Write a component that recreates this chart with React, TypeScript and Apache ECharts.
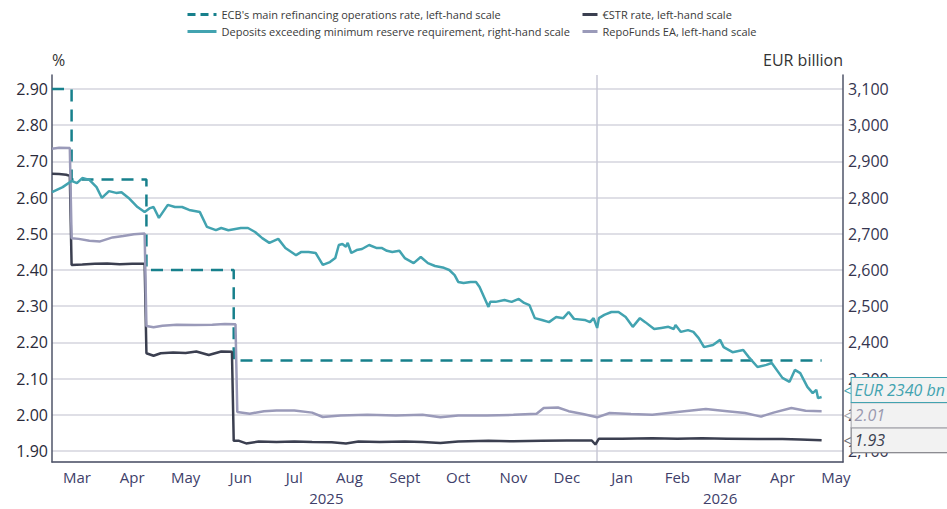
import React, { useEffect, useRef } from 'react';
import * as echarts from 'echarts';

// ---------- axis extents / labels ----------
const X_START = '2025-03-01';
const X_END = '2026-05-19';
const YEAR_BOUNDARY = '2026-01-01';
const MONTH_LABEL_DAY = 15;
const MONTH_NAMES = ['Jan', 'Feb', 'Mar', 'Apr', 'May', 'Jun', 'Jul', 'Aug', 'Sept', 'Oct', 'Nov', 'Dec'];
const YEAR_LABEL_DAYS = ['2025-08-02', '2026-03-11'];

const LEFT_MIN = 1.8696;
const LEFT_MAX = 2.9387;
const RIGHT_MIN = 2069.6;
const RIGHT_MAX = 3138.7;

const LEFT_NAME = '%';
const RIGHT_NAME = 'EUR billion';

// ---------- series names ----------
const ECB_NAME = "ECB's main refinancing operations rate, left-hand scale";
const ESTR_NAME = '€STR rate, left-hand scale';
const DEP_NAME = 'Deposits exceeding minimum reserve requirement, right-hand scale';
const REPO_NAME = 'RepoFunds EA, left-hand scale';
const DEP_END_LABEL = 'EUR 2340 bn';

// ---------- data ----------
const ecbRate: [string, number][] = [
  ['2025-03-01', 2.9], ['2025-03-12', 2.65], ['2025-04-23', 2.4], ['2025-06-11', 2.15], ['2026-05-07', 2.15],
];

const estrRate: [string, number][] = [
  ['2025-03-01', 2.666], ['2025-03-05', 2.665], ['2025-03-09', 2.663], ['2025-03-11', 2.66],
  ['2025-03-12', 2.414], ['2025-03-18', 2.415], ['2025-03-25', 2.417], ['2025-04-01', 2.418],
  ['2025-04-08', 2.416], ['2025-04-15', 2.417], ['2025-04-22', 2.417],
  ['2025-04-23', 2.17], ['2025-04-27', 2.163], ['2025-05-01', 2.17], ['2025-05-08', 2.172],
  ['2025-05-15', 2.171], ['2025-05-21', 2.175], ['2025-05-28', 2.165], ['2025-06-04', 2.175], ['2025-06-10', 2.174],
  ['2025-06-11', 1.928], ['2025-06-14', 1.928], ['2025-06-18', 1.921], ['2025-06-25', 1.926], ['2025-07-05', 1.925],
  ['2025-07-15', 1.926], ['2025-07-25', 1.925], ['2025-08-05', 1.924], ['2025-08-13', 1.921], ['2025-08-20', 1.926],
  ['2025-09-01', 1.925], ['2025-09-15', 1.926], ['2025-09-25', 1.925], ['2025-10-05', 1.922], ['2025-10-15', 1.926],
  ['2025-11-01', 1.928], ['2025-11-15', 1.927], ['2025-12-01', 1.928], ['2025-12-15', 1.929], ['2025-12-29', 1.929],
  ['2025-12-31', 1.918], ['2026-01-02', 1.934], ['2026-01-15', 1.934], ['2026-02-01', 1.935], ['2026-02-15', 1.934],
  ['2026-03-01', 1.935], ['2026-03-15', 1.934], ['2026-04-01', 1.933], ['2026-04-15', 1.933], ['2026-04-25', 1.932],
  ['2026-05-07', 1.93],
];

const repoFunds: [string, number][] = [
  ['2025-03-01', 2.735], ['2025-03-05', 2.738], ['2025-03-11', 2.737],
  ['2025-03-12', 2.488], ['2025-03-16', 2.486], ['2025-03-22', 2.481], ['2025-03-28', 2.479], ['2025-04-04', 2.49],
  ['2025-04-10', 2.494], ['2025-04-16', 2.499], ['2025-04-22', 2.501],
  ['2025-04-23', 2.245], ['2025-04-27', 2.242], ['2025-05-02', 2.246], ['2025-05-10', 2.249], ['2025-05-20', 2.248],
  ['2025-05-30', 2.249], ['2025-06-06', 2.251], ['2025-06-12', 2.25],
  ['2025-06-13', 2.008], ['2025-06-20', 2.003], ['2025-06-28', 2.01], ['2025-07-05', 2.012], ['2025-07-15', 2.012],
  ['2025-07-25', 2.006], ['2025-07-31', 1.994], ['2025-08-10', 1.998], ['2025-08-25', 2.0], ['2025-09-10', 1.998],
  ['2025-09-25', 2.0], ['2025-10-05', 1.993], ['2025-10-15', 1.998], ['2025-10-31', 1.998], ['2025-11-15', 2.0],
  ['2025-11-28', 2.003], ['2025-12-02', 2.019], ['2025-12-10', 2.02], ['2025-12-16', 2.01], ['2025-12-24', 2.002],
  ['2026-01-01', 1.993], ['2026-01-08', 2.005], ['2026-01-20', 2.002], ['2026-02-01', 2.0], ['2026-02-15', 2.008],
  ['2026-03-03', 2.016], ['2026-03-15', 2.01], ['2026-03-25', 2.005], ['2026-04-03', 1.995], ['2026-04-10', 2.006],
  ['2026-04-20', 2.019], ['2026-04-28', 2.011], ['2026-05-07', 2.01],
];

const deposits: [string, number][] = [
  ['2025-03-01', 2815], ['2025-03-07', 2829], ['2025-03-12', 2846], ['2025-03-15', 2840], ['2025-03-18', 2854],
  ['2025-03-22', 2849], ['2025-03-26', 2829], ['2025-03-29', 2799], ['2025-04-02', 2818], ['2025-04-06', 2813],
  ['2025-04-09', 2815], ['2025-04-13', 2799], ['2025-04-18', 2774], ['2025-04-22', 2760], ['2025-04-25', 2771],
  ['2025-04-27', 2774], ['2025-04-30', 2744], ['2025-05-05', 2780], ['2025-05-09', 2774], ['2025-05-13', 2774],
  ['2025-05-17', 2766], ['2025-05-23', 2760], ['2025-05-27', 2719], ['2025-06-01', 2710], ['2025-06-04', 2716],
  ['2025-06-08', 2710], ['2025-06-15', 2716], ['2025-06-19', 2716], ['2025-06-23', 2705], ['2025-06-27', 2688],
  ['2025-07-01', 2675], ['2025-07-06', 2686], ['2025-07-10', 2661], ['2025-07-16', 2641], ['2025-07-19', 2650],
  ['2025-07-23', 2650], ['2025-07-27', 2647], ['2025-07-31', 2614], ['2025-08-04', 2622], ['2025-08-07', 2633],
  ['2025-08-09', 2669], ['2025-08-11', 2672], ['2025-08-13', 2664], ['2025-08-14', 2675], ['2025-08-16', 2647],
  ['2025-08-19', 2655], ['2025-08-22', 2658], ['2025-08-26', 2669], ['2025-08-30', 2661], ['2025-09-02', 2661],
  ['2025-09-05', 2653], ['2025-09-08', 2650], ['2025-09-12', 2653], ['2025-09-15', 2633], ['2025-09-20', 2619],
  ['2025-09-24', 2636], ['2025-09-28', 2619], ['2025-10-02', 2611], ['2025-10-07', 2606], ['2025-10-10', 2600],
  ['2025-10-13', 2586], ['2025-10-15', 2567], ['2025-10-18', 2564], ['2025-10-22', 2567], ['2025-10-25', 2567],
  ['2025-10-27', 2553], ['2025-10-29', 2531], ['2025-11-01', 2498], ['2025-11-02', 2512], ['2025-11-05', 2512],
  ['2025-11-10', 2517], ['2025-11-14', 2512], ['2025-11-18', 2520], ['2025-11-21', 2509], ['2025-11-24', 2503],
  ['2025-11-27', 2467], ['2025-12-01', 2462], ['2025-12-05', 2456], ['2025-12-09', 2470], ['2025-12-13', 2467],
  ['2025-12-16', 2484], ['2025-12-19', 2465], ['2025-12-25', 2462], ['2025-12-28', 2456], ['2025-12-30', 2467],
  ['2026-01-01', 2440], ['2026-01-02', 2467], ['2026-01-05', 2476], ['2026-01-09', 2484], ['2026-01-13', 2484],
  ['2026-01-17', 2470], ['2026-01-21', 2443], ['2026-01-25', 2467], ['2026-01-28', 2456], ['2026-02-02', 2437],
  ['2026-02-06', 2440], ['2026-02-10', 2443], ['2026-02-13', 2437], ['2026-02-14', 2448], ['2026-02-17', 2429],
  ['2026-02-21', 2434], ['2026-02-24', 2429], ['2026-02-27', 2412], ['2026-03-02', 2387], ['2026-03-07', 2393],
  ['2026-03-11', 2407], ['2026-03-13', 2387], ['2026-03-18', 2373], ['2026-03-24', 2379], ['2026-03-27', 2360],
  ['2026-04-01', 2332], ['2026-04-06', 2338], ['2026-04-09', 2343], ['2026-04-15', 2302], ['2026-04-19', 2291],
  ['2026-04-22', 2324], ['2026-04-25', 2315], ['2026-04-29', 2277], ['2026-05-02', 2260], ['2026-05-04', 2269],
  ['2026-05-05', 2246], ['2026-05-07', 2249],
];

// ---------- styles ----------
const FONT = "'Open Sans', sans-serif";
const C_ECB = '#17808c';
const C_DEP = '#42a3b0';
const C_ESTR = '#3b3f50';
const C_REPO = '#9a9ab9';
const C_GRID = '#d4d4de';
const C_AXIS = '#4f5468';

function parseDay(s: string): number {
  const [y, m, d] = s.split('-').map(Number);
  return new Date(y, m - 1, d).getTime();
}
function fmtDay(dt: Date): string {
  const m = String(dt.getMonth() + 1).padStart(2, '0');
  const d = String(dt.getDate()).padStart(2, '0');
  return `${dt.getFullYear()}-${m}-${d}`;
}
function dayList(start: string, end: string): string[] {
  const out: string[] = [];
  const [y, m, d] = start.split('-').map(Number);
  const cur = new Date(y, m - 1, d);
  for (let i = 0; i < 2000; i++) {
    const s = fmtDay(cur);
    out.push(s);
    if (s === end) break;
    cur.setDate(cur.getDate() + 1);
  }
  return out;
}

const toSeries = (arr: [string, number][]) => arr.map(([d, v]) => [parseDay(d), v]);

export default function App() {
  const ref = useRef<HTMLDivElement>(null);

  useEffect(() => {
    if (!ref.current) return;
    const chart = echarts.init(ref.current, undefined, { renderer: 'svg' });
    const days = dayList(X_START, X_END);

    const leftSplitColors = [...Array(12).fill(C_GRID), 'rgba(0,0,0,0)'];

    const labelBox = (color: string, border: string) => ({
      p: { color: border, fontSize: 14, fontFamily: FONT, padding: [0, 0, 0, 0] },
      t: {
        color,
        fontSize: 16,
        lineHeight: 16,
        fontStyle: 'italic',
        fontFamily: FONT,
        backgroundColor: '#f2f2f2',
        borderColor: border,
        borderWidth: 1,
        padding: [4, 4, 4, 3],
        width: 110,
      },
    });

    const legendBase = {
      orient: 'vertical',
      top: 4,
      itemHeight: 10,
      itemGap: 6,
      itemStyle: { opacity: 0 },
      textStyle: { fontSize: 11, color: '#3a3a3a', fontFamily: FONT },
    };

    const option: any = {
      animation: false,
      textStyle: { fontFamily: FONT },
      grid: { left: 52, right: 104, top: 75, bottom: 47, containLabel: false, outerBoundsMode: 'none' },
      legend: [
        {
          ...legendBase,
          data: [
            { name: ECB_NAME, lineStyle: { type: [8, 5], width: 3 } },
            { name: DEP_NAME, lineStyle: { width: 3 } },
          ],
          left: 181,
          itemWidth: 29,
        },
        {
          ...legendBase,
          data: [
            { name: ESTR_NAME, lineStyle: { width: 3 } },
            { name: REPO_NAME, lineStyle: { width: 3 } },
          ],
          left: 576,
          itemWidth: 15,
        },
      ],
      xAxis: [
        {
          type: 'time',
          min: parseDay(X_START),
          max: parseDay(X_END),
          position: 'bottom',
          axisLine: { show: true, lineStyle: { color: C_AXIS, width: 1.5 } },
          axisTick: { show: false },
          axisLabel: { show: false },
          splitLine: { show: false },
        },
        {
          type: 'category',
          data: days,
          boundaryGap: false,
          position: 'bottom',
          axisLine: { show: false },
          axisTick: { show: false },
          axisLabel: {
            interval: (_i: number, v: string) => Number(v.slice(8, 10)) === MONTH_LABEL_DAY,
            formatter: (v: string) => MONTH_NAMES[Number(v.slice(5, 7)) - 1],
            margin: 7,
            fontSize: 15,
            color: '#40406a',
            fontFamily: FONT,
          },
          splitLine: {
            show: true,
            interval: (_i: number, v: string) => v === YEAR_BOUNDARY,
            lineStyle: { color: '#c8c8d6', width: 1.5 },
          },
        },
        {
          type: 'category',
          data: days,
          boundaryGap: false,
          position: 'bottom',
          axisLine: { show: false },
          axisTick: { show: false },
          axisLabel: {
            interval: (_i: number, v: string) => YEAR_LABEL_DAYS.includes(v),
            formatter: (v: string) => v.slice(0, 4),
            margin: 28,
            fontSize: 15,
            color: '#40406a',
            fontFamily: FONT,
          },
          splitLine: { show: false },
        },
      ],
      yAxis: [
        {
          type: 'value',
          position: 'left',
          min: LEFT_MIN,
          max: LEFT_MAX,
          splitNumber: 10,
          name: LEFT_NAME,
          nameLocation: 'end',
          nameGap: 15,
          nameTextStyle: { align: 'left', verticalAlign: 'middle', fontSize: 16, color: '#333', fontFamily: FONT },
          axisLine: { show: true, lineStyle: { color: C_AXIS, width: 1.5 } },
          axisTick: { show: false },
          axisLabel: {
            formatter: (v: number) => v.toFixed(2),
            showMinLabel: false,
            showMaxLabel: false,
            fontSize: 16,
            color: '#2a2a3a',
            margin: 4,
            fontFamily: FONT,
          },
          splitLine: { show: true, lineStyle: { color: leftSplitColors, width: 1.5 } },
        },
        {
          type: 'value',
          position: 'right',
          min: RIGHT_MIN,
          max: RIGHT_MAX,
          splitNumber: 10,
          name: RIGHT_NAME,
          nameLocation: 'end',
          nameGap: 15,
          nameTextStyle: { align: 'right', verticalAlign: 'middle', fontSize: 16, color: '#333', fontFamily: FONT },
          axisLine: { show: true, lineStyle: { color: C_AXIS, width: 1.5 } },
          axisTick: { show: false },
          axisLabel: {
            formatter: (v: number) => Math.round(v).toLocaleString('en-US'),
            showMinLabel: false,
            showMaxLabel: false,
            fontSize: 16,
            color: '#35354f',
            margin: 5,
            fontFamily: FONT,
          },
          splitLine: { show: false },
        },
      ],
      series: [
        {
          name: ECB_NAME,
          type: 'line',
          step: 'end',
          xAxisIndex: 0,
          yAxisIndex: 0,
          data: toSeries(ecbRate),
          symbol: 'none',
          lineStyle: { color: C_ECB, width: 2.5, type: [12, 8] },
          itemStyle: { color: C_ECB },
          z: 2,
        },
        {
          name: ESTR_NAME,
          type: 'line',
          xAxisIndex: 0,
          yAxisIndex: 0,
          data: toSeries(estrRate),
          symbol: 'none',
          lineStyle: { color: C_ESTR, width: 2.5 },
          itemStyle: { color: C_ESTR },
          endLabel: {
            show: true,
            distance: 22,
            offset: [0, 0],
            formatter: (p: any) => `{p|<}{t|${Number(p.value[1]).toFixed(2)}}`,
            rich: labelBox('#3b3f50', '#6a6a72'),
          },
          z: 3,
        },
        {
          name: DEP_NAME,
          type: 'line',
          xAxisIndex: 0,
          yAxisIndex: 1,
          data: toSeries(deposits),
          symbol: 'none',
          lineStyle: { color: C_DEP, width: 2.5 },
          itemStyle: { color: C_DEP },
          endLabel: {
            show: true,
            distance: 22,
            offset: [0, -7],
            formatter: () => `{p|<}{t|${DEP_END_LABEL}}`,
            rich: labelBox(C_DEP, C_DEP),
          },
          z: 4,
        },
        {
          name: REPO_NAME,
          type: 'line',
          xAxisIndex: 0,
          yAxisIndex: 0,
          data: toSeries(repoFunds),
          symbol: 'none',
          lineStyle: { color: C_REPO, width: 2.5 },
          itemStyle: { color: C_REPO },
          endLabel: {
            show: true,
            distance: 22,
            offset: [0, 4],
            formatter: (p: any) => `{p|<}{t|${Number(p.value[1]).toFixed(2)}}`,
            rich: labelBox('#9a9ab0', '#a0a0a8'),
          },
          z: 3,
        },
      ],
    };

    chart.setOption(option);
    return () => chart.dispose();
  }, []);

  return (
    <div
      ref={ref}
      style={{ position: 'fixed', left: 0, top: 0, width: 947, height: 509, background: '#ffffff' }}
    />
  );
}
